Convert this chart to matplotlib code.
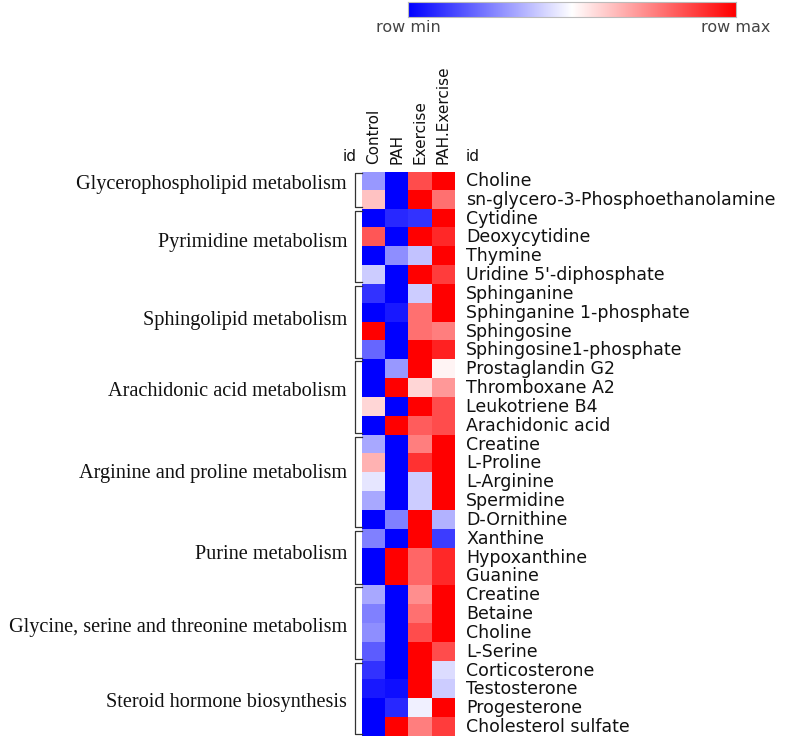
import numpy as np
import matplotlib.pyplot as plt
from matplotlib.colors import LinearSegmentedColormap

columns = ["Control", "PAH", "Exercise", "PAH.Exercise"]

metabolites = [
    "Choline", "sn-glycero-3-Phosphoethanolamine",
    "Cytidine", "Deoxycytidine", "Thymine", "Uridine 5'-diphosphate",
    "Sphinganine", "Sphinganine 1-phosphate", "Sphingosine", "Sphingosine1-phosphate",
    "Prostaglandin G2", "Thromboxane A2", "Leukotriene B4", "Arachidonic acid",
    "Creatine", "L-Proline", "L-Arginine", "Spermidine", "D-Ornithine",
    "Xanthine", "Hypoxanthine", "Guanine",
    "Creatine", "Betaine", "Choline", "L-Serine",
    "Corticosterone", "Testosterone", "Progesterone", "Cholesterol sulfate",
]

pathways = [
    "Glycerophospholipid metabolism",
    "Pyrimidine metabolism",
    "Sphingolipid metabolism",
    "Arachidonic acid metabolism",
    "Arginine and proline metabolism",
    "Purine metabolism",
    "Glycine, serine and threonine metabolism",
    "Steroid hormone biosynthesis",
]
pathway_sizes = [2, 4, 4, 4, 5, 3, 4, 4]

# row-scaled values, 0 = row min, 1 = row max
values = [
    [0.30, 0.00, 0.85, 1.00],
    [0.62, 0.00, 1.00, 0.78],
    [0.00, 0.08, 0.10, 1.00],
    [0.83, 0.00, 1.00, 0.92],
    [0.00, 0.28, 0.38, 1.00],
    [0.40, 0.00, 1.00, 0.88],
    [0.10, 0.00, 0.40, 1.00],
    [0.00, 0.05, 0.78, 1.00],
    [1.00, 0.00, 0.78, 0.75],
    [0.20, 0.00, 1.00, 0.93],
    [0.00, 0.30, 1.00, 0.52],
    [0.00, 1.00, 0.58, 0.70],
    [0.58, 0.00, 1.00, 0.85],
    [0.00, 1.00, 0.82, 0.85],
    [0.33, 0.00, 0.75, 1.00],
    [0.65, 0.00, 0.90, 1.00],
    [0.45, 0.00, 0.40, 1.00],
    [0.33, 0.00, 0.40, 1.00],
    [0.00, 0.25, 1.00, 0.35],
    [0.25, 0.00, 1.00, 0.12],
    [0.00, 1.00, 0.80, 0.92],
    [0.00, 1.00, 0.80, 0.92],
    [0.33, 0.00, 0.72, 1.00],
    [0.25, 0.00, 0.78, 1.00],
    [0.28, 0.00, 0.85, 1.00],
    [0.18, 0.00, 1.00, 0.85],
    [0.10, 0.00, 1.00, 0.43],
    [0.05, 0.03, 1.00, 0.40],
    [0.00, 0.08, 0.47, 1.00],
    [0.00, 1.00, 0.75, 0.88],
]

# the pathway names are not exactly centred on their groups in the original
label_nudge = [-0.29, -0.21, -0.11, -0.32, -0.48, -0.14, 0.19, 0.22]

W, H = 790, 739
cmap = LinearSegmentedColormap.from_list("bwr_row", ["#0000ff", "#ffffff", "#ff0000"])

def fig_rect(x0, y0, x1, y1):
    # pixel box (top-left origin) -> figure fraction rect
    return [x0 / W, 1 - y1 / H, (x1 - x0) / W, (y1 - y0) / H]

fig = plt.figure(figsize=(W / 100, H / 100), dpi=100)

hx0, hy0, hx1, hy1 = 362, 171.6, 455, 736.4
ax = fig.add_axes(fig_rect(hx0, hy0, hx1, hy1))
data = np.array(values)
ax.imshow(data, cmap=cmap, vmin=0, vmax=1, aspect="auto", interpolation="nearest")
ax.set_xticks([])
ax.set_yticks([])
for s in ax.spines.values():
    s.set_visible(False)

def xfrac(px):
    return (px - hx0) / (hx1 - hx0)

sans = "DejaVu Sans"
serif = "Liberation Serif"
yt = ax.get_yaxis_transform()

# row labels on the right
for i, name in enumerate(metabolites):
    ax.text(xfrac(466), i, name, transform=yt, ha="left", va="center",
            fontsize=12.5, family=sans, color="#111111")

# column labels
for j, c in enumerate(columns):
    ax.text(j, -0.9, c, rotation=90, ha="center", va="bottom", fontsize=11,
            family=sans, color="#111111")
ax.text(xfrac(350), -1.3, "id", transform=yt, ha="center", va="center",
        fontsize=11, family=sans, color="#111111")
ax.text(xfrac(466), -1.3, "id", transform=yt, ha="left", va="center",
        fontsize=11, family=sans, color="#111111")

# pathway brackets and labels
start = 0
for name, size, nudge in zip(pathways, pathway_sizes, label_nudge):
    top = start - 0.42
    bot = start + size - 0.62
    ax.plot([xfrac(361.5), xfrac(355), xfrac(355), xfrac(361.5)], [top, top, bot, bot],
            transform=yt, color="#333333", lw=0.9, clip_on=False)
    ax.text(xfrac(347), start + (size - 1) / 2 + nudge, name, transform=yt,
            ha="right", va="center", fontsize=14.6, family=serif, color="#111111")
    start += size

# colour bar on top
cax = fig.add_axes(fig_rect(408, 2, 736, 17))
cax.imshow(np.linspace(0, 1, 256)[None, :], cmap=cmap, aspect="auto")
cax.set_xticks([])
cax.set_yticks([])
for s in cax.spines.values():
    s.set_color("#bbbbbb")
    s.set_linewidth(0.8)
fig.text(408 / W, 1 - 27 / H, "row min", ha="center", va="center", fontsize=11.5,
         family=sans, color="#444444")
fig.text(736 / W, 1 - 27 / H, "row max", ha="center", va="center", fontsize=11.5,
         family=sans, color="#444444")

fig.savefig("out.png", dpi=100)
